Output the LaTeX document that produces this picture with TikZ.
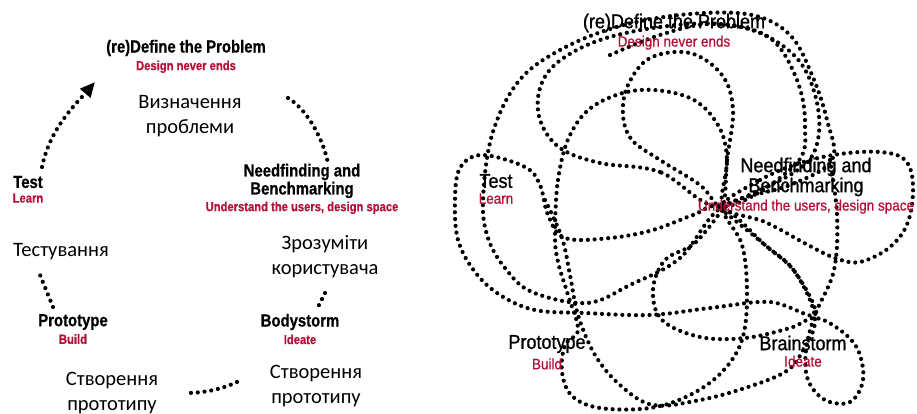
\documentclass[tikz,border=0pt]{standalone}
\usepackage{fontspec}
\setmainfont{Liberation Sans}
\newfontfamily\headfont{Liberation Sans Bold}[FakeStretch=0.85, FakeBold=0.6]
\newfontfamily\scribfont{Liberation Sans}[FakeStretch=0.9, FakeBold=1]
\newfontfamily\ukrfont{Carlito}
\usetikzlibrary{arrows.meta,positioning}
\definecolor{crim}{RGB}{180,16,56}
\tikzset{
  stage/.style  = {font=\headfont\fontsize{17.5}{18}\selectfont, inner sep=0pt, align=center},
  sub/.style    = {font=\headfont\fontsize{13.2}{14}\selectfont, text=crim, inner sep=0pt},
  ukr/.style    = {font=\ukrfont\fontsize{20.5}{25}\selectfont, inner sep=0pt, align=center},
  rstage/.style = {font=\scribfont\fontsize{20}{20}\selectfont, inner sep=0pt, align=center},
  rsub/.style   = {font=\scribfont\fontsize{15}{15}\selectfont, text=crim, inner sep=0pt},
  dotline/.style = {line width=4.2pt, line cap=round, dash pattern=on 0pt off 6.8pt},
  scrib/.style  = {dotline, tension=0.6},
}

\begin{document}
\begin{tikzpicture}[x=1pt,y=-1pt]
  \useasboundingbox (0,0) rectangle (917,414);

  % linear process
  \node[stage] (define) at (186,48) {(re)Define the Problem};
  \node[sub, below=4pt of define] (definesub) {Design never ends};
  \node[ukr] (defineuk) at (190,116) {Визначення\\проблеми};
  \node[stage] (need) at (302,181) {Needfinding and\\Benchmarking};
  \node[sub, below=3pt of need] (needsub) {Understand the users, design space};
  \node[ukr] (needuk) at (325,257) {Зрозуміти\\користувача};
  \node[stage] (body) at (300,322) {Bodystorm};
  \node[sub, below=4pt of body] (bodysub) {Ideate};
  \node[ukr] (bodyuk) at (316,386) {Створення\\прототипу};
  \node[stage] (proto) at (73,322) {Prototype};
  \node[sub, below=4pt of proto] (protosub) {Build};
  \node[ukr] (protouk) at (112,393) {Створення\\прототипу};
  \node[stage] (test) at (28,182) {Test};
  \node[sub, below=5pt of test] (testsub) {Learn};
  \node[ukr] (testuk) at (61,252) {Тестування};

  \coordinate (t1) at (42,167);   \coordinate (t2) at (95,82);
  \coordinate (d1) at (288,98);   \coordinate (d2) at (328,163);
  \coordinate (n1) at (325,293);  \coordinate (n2) at (318,307);
  \coordinate (b1) at (237,382);  \coordinate (b2) at (185,393);
  \coordinate (p1) at (53,307);   \coordinate (p2) at (40,275);
  \draw[dotline, -{Triangle[length=15pt,width=13pt]}] (t1) .. controls (50,128) and (76,104) .. (t2);
  \draw[dotline] (d1) .. controls (305,108) and (322,135) .. (d2);
  \draw[dotline] (n1) -- (n2);
  \draw[dotline] (b1) .. controls (222,389) and (205,393) .. (b2);
  \draw[dotline] (p1) -- (p2);

  % messy process
  \draw[scrib] plot[smooth cycle] coordinates {(722,207) (680,258) (630,285) (587,303) (532,292) (505,268) (488,238) (483,200) (492,135) (518,82) (560,50) (620,26) (690,14) (752,15) (790,35) (812,75) (827,120) (832,160) (790,185)};
  \draw[scrib] plot[smooth cycle] coordinates {(722,207) (727,160) (733,110) (722,75) (690,53) (650,58) (628,85) (623,115) (632,140) (660,160) (700,185)};
  \draw[scrib] plot[smooth cycle] coordinates {(722,207) (660,172) (600,163) (560,148) (540,120) (540,88) (558,62) (600,40) (660,27) (720,24) (770,38) (797,80) (805,125) (795,165)};
  \draw[scrib] plot[smooth cycle] coordinates {(555,235) (558,180) (570,135) (595,105) (640,90) (690,98) (718,125) (727,160) (722,207) (742,245) (747,295) (742,340) (722,372) (690,395) (650,408) (600,408) (572,396) (562,372) (565,345) (578,330) (568,295) (558,262)};
  \draw[scrib] plot[smooth cycle] coordinates {(722,207) (693,215) (653,230) (610,238) (565,238) (548,215) (540,185) (525,167) (482,155) (460,168) (455,200) (458,240) (475,272) (500,295) (535,310) (585,313) (650,315) (710,308) (770,302) (815,315) (795,272) (765,245)};
  \draw[scrib] plot[smooth cycle] coordinates {(722,207) (760,180) (800,163) (840,154) (880,152) (905,160) (913,185) (908,222) (890,247) (860,262) (835,258) (808,245) (765,222)};
  \draw[scrib] plot[smooth] coordinates {(830,160) (837,215) (834,270) (815,315) (806,350) (808,380) (825,400) (850,402) (863,380) (858,350) (840,330) (815,318) (790,328) (745,338) (700,337) (662,320) (653,290) (665,260) (695,243) (722,210)};
  \draw[scrib] plot[smooth] coordinates {(545,200) (562,238) (570,275) (578,315) (595,355) (620,385) (653,405) (700,400) (745,388) (785,372) (802,352) (815,318) (795,272) (765,245) (722,210)};
  \draw[scrib] plot[smooth] coordinates {(610,55) (660,35) (710,24) (760,33) (800,62) (818,108) (815,150) (790,175) (722,207)};

  \node[rstage] (rdefine) at (674,23) {(re)Define the Problem};
  \node[rsub, below=3pt of rdefine] (rdefinesub) {Design never ends};
  \node[rstage] (rneed) at (806,177) {Needfinding and\\Benchmarking};
  \node[rsub, below=3pt of rneed] (rneedsub) {Understand the users, design space};
  \node[rstage] (rtest) at (496,181) {Test};
  \node[rsub, below=5pt of rtest] (rtestsub) {Learn};
  \node[rstage] (rproto) at (547,344) {Prototype};
  \node[rsub, below=5pt of rproto] (rprotosub) {Build};
  \node[rstage] (rbrain) at (803,343) {Brainstorm};
  \node[rsub, below=5pt of rbrain] (rbrainsub) {Ideate};
\end{tikzpicture}
\end{document}
